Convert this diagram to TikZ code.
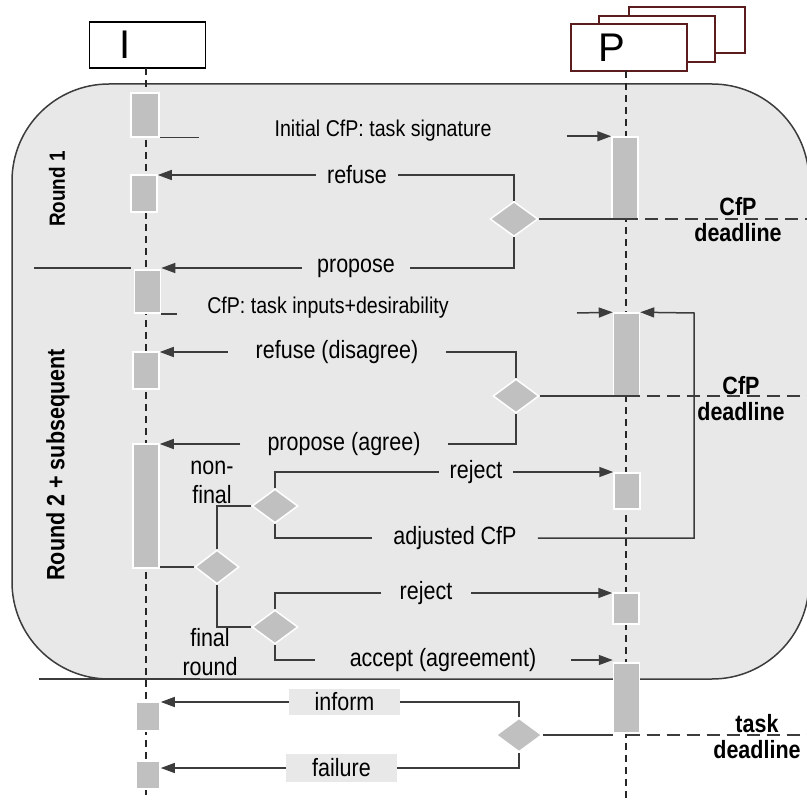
\documentclass[tikz,border=0pt]{standalone}
\usepackage{fontspec}
\setmainfont{Liberation Sans}[FakeStretch=0.86]
\newfontfamily\headfont{Liberation Sans}
\usepackage{xcolor}
\definecolor{lnGray}{RGB}{60,60,60}
\definecolor{regGray}{RGB}{232,232,232}
\definecolor{barGray}{RGB}{192,192,192}
\definecolor{pRed}{RGB}{90,28,28}
\usetikzlibrary{arrows.meta, shapes.geometric}

\tikzset{
  msg/.style={draw=lnGray, line width=1.5pt},
  msgarrow/.style={msg, -{Triangle[length=14pt,width=10pt]}},
  actbar/.style={fill=barGray, draw=white, line width=1.5pt, minimum width=26pt, inner sep=0pt},
  choice/.style={diamond, fill=barGray, draw=white, line width=1.5pt, minimum width=46pt, minimum height=34pt, inner sep=0pt},
  lifeline/.style={draw=black!85, line width=1.3pt, dash pattern=on 7pt off 5pt},
  deadln/.style={draw=lnGray, line width=1.5pt, dash pattern=on 13pt off 7pt},
  lifebox/.style={draw, fill=white, line width=1.5pt, minimum width=116pt, minimum height=46pt, inner sep=0pt},
  headtxt/.style={font=\headfont\fontsize{40}{44}\selectfont},
  lbl/.style={font=\fontsize{25}{29}\selectfont, inner ysep=0pt, align=center},
  slbl/.style={font=\fontsize{22.8}{26}\selectfont, inner ysep=0pt},
  dlbl/.style={font=\fontsize{25}{26}\selectfont\bfseries, align=center},
}

\begin{document}
\begin{tikzpicture}[x=1pt, y=-1pt]
  \useasboundingbox (0,0) rectangle (807,800);
  \coordinate (rEdge) at (810,0);
  % rounds area
  \draw[draw=lnGray, fill=regGray, line width=1.5pt, rounded corners=97pt] (12,84) rectangle (809,679);
  \draw[msg] (34,268) -- (131,268);
  \draw[msg] (39,679) -- (200,679);
  \node[rotate=90, font=\fontsize{22}{24}\selectfont\bfseries] (rnd1) at (57,189) {Round 1};
  \node[rotate=90, font=\fontsize{25}{26}\selectfont\bfseries] (rnd2) at (58,465) {Round 2 + subsequent};
  % lifeline heads
  \node[lifebox] (lifeI) at (147.5,45) {};
  \node[headtxt] (txtI) at (125,45) {I};
  \node[lifebox, draw=pRed] (pBack) at (687,30) {};
  \node[lifebox, draw=pRed] (pMid) at (657,39) {};
  \node[lifebox, draw=pRed, minimum height=47pt] (lifeP) at (629,47.5) {};
  \node[headtxt] (txtP) at (612,47.5) {P};
  % lifelines
  \coordinate (topI) at (146,68);
  \coordinate (topP) at (626,71);
  \draw[lifeline] (topI) -- (146,800);
  \draw[lifeline] (topP) -- (626,800);
  % activation bars
  \node[actbar, minimum width=28pt, minimum height=44pt] (bI1) at (145,115) {};
  \node[actbar, minimum height=37pt] (bI2) at (144,193.5) {};
  \node[actbar, minimum height=43pt] (bI3) at (147.5,291.5) {};
  \node[actbar, minimum height=37pt] (bI4) at (146,370.5) {};
  \node[actbar, minimum height=124pt] (bI5) at (146,506) {};
  \node[actbar, minimum width=24pt, minimum height=29pt] (bI6) at (148,716.5) {};
  \node[actbar, minimum width=24pt, minimum height=28pt] (bI7) at (148,775) {};
  \node[actbar, minimum height=82pt] (bP1) at (625,178) {};
  \node[actbar, minimum height=83pt] (bP2) at (626.5,354.5) {};
  \node[actbar, minimum height=36pt] (bP3) at (627,491) {};
  \node[actbar, minimum height=31pt] (bP4) at (626,608.5) {};
  \node[actbar, minimum height=70pt] (bP5) at (626.5,698) {};
  % decisions
  \node[choice, minimum width=48pt, minimum height=35pt] (d1) at (514,219) {};
  \node[choice] (d2) at (516,396) {};
  \node[choice, minimum width=44pt] (d3) at (217,567) {};
  \node[choice] (d4) at (275,506) {};
  \node[choice] (d5) at (275,627) {};
  \node[choice] (d6) at (519,735) {};
  % message labels
  \node[slbl, inner xsep=75pt] (lblInit) at (383,131) {Initial CfP: task signature};
  \node[lbl, inner xsep=11pt] (lblRef1) at (357,175) {refuse};
  \node[lbl, inner xsep=15pt] (lblProp1) at (356,268) {propose};
  \node[slbl, inner xsep=30pt] (lblInp) at (328,308) {CfP: task inputs+desirability};
  \node[lbl, inner xsep=28pt] (lblRef2) at (337,352) {refuse (disagree)};
  \node[lbl, inner xsep=27pt] (lblProp2) at (344,444) {propose (agree)};
  \node[lbl, inner xsep=11pt] (lblRej1) at (476,472) {reject};
  \node[lbl, inner xsep=21pt] (lblAdj) at (455,538) {adjusted CfP};
  \node[lbl, inner xsep=19pt] (lblRej2) at (426,593) {reject};
  \node[lbl, inner xsep=35pt] (lblAcc) at (443,660) {accept (agreement)};
  \node[lbl, fill=regGray, minimum width=111pt, minimum height=26pt] (lblInf) at (344.5,702) {inform};
  \node[lbl, fill=regGray, minimum width=111pt, minimum height=28pt] (lblFail) at (341.5,768) {failure};
  \node[lbl] (lblNonFin) at (212,482) {non-\\final};
  \node[lbl] (lblFin) at (210,652) {final\\round};
  % deadlines
  \node[dlbl] (dl1) at (738,220) {CfP\\deadline};
  \node[dlbl] (dl2) at (741,399) {CfP\\deadline};
  \node[dlbl] (dl3) at (757,737) {task\\deadline};
  % round 1
  \draw[msg] (bI1.south east) -- (bI1.south east -| lblInit.west);
  \draw[msgarrow] (lblInit.east |- bP1.north) -- (bP1.north west);
  \draw[msg] (d1.north) |- (lblRef1.east);
  \draw[msgarrow] (lblRef1.west) -- (lblRef1.west -| bI2.east);
  \draw[msg] (d1.south) |- (lblProp1.east);
  \draw[msgarrow] (lblProp1.west) -- (lblProp1.west -| bI3.east);
  \draw[msg] (d1.east) -- (d1.east -| bP1.south);
  \draw[deadln] (d1.east -| bP1.south) -- (d1.east -| rEdge);
  % round 2 + subsequent
  \coordinate (cInp) at (577,313);
  \coordinate (loopR) at (694,313);
  \draw[msg] (bI3.south east) -- (bI3.south east -| lblInp.west);
  \draw[msgarrow] (cInp) -- (bP2.north west);
  \draw[msg] (d2.north) |- (lblRef2.east);
  \draw[msgarrow] (lblRef2.west) -- (lblRef2.west -| bI4.east);
  \draw[msg] (d2.south) |- (lblProp2.east);
  \draw[msgarrow] (lblProp2.west) -- (lblProp2.west -| bI5.east);
  \draw[msg] (d2.east) -- (d2.east -| bP2.south);
  \draw[deadln] (d2.east -| bP2.south) -- (d2.east -| rEdge);
  \draw[msg] (d3.west -| bI5.east) -- (d3.west);
  \draw[msg] (d3.north) |- (d4.west);
  \draw[msg] (d3.south) |- (d5.west);
  \draw[msg] (d4.north) |- (lblRej1.west);
  \draw[msgarrow] (lblRej1.east) -- (lblRej1.east -| bP3.west);
  \draw[msg] (d4.south) |- (lblAdj.west);
  \draw[msgarrow] (lblAdj.east) -| (loopR) -- (bP2.north east);
  \draw[msg] (d5.north) |- (lblRej2.west);
  \draw[msgarrow] (lblRej2.east) -- (lblRej2.east -| bP4.west);
  \draw[msg] (d5.south) |- (lblAcc.west);
  \draw[msgarrow] (lblAcc.east) -- (lblAcc.east -| bP5.west);
  % outcome
  \draw[msg] (d6.north) |- (lblInf.east);
  \draw[msgarrow] (lblInf.west) -- (lblInf.west -| bI6.east);
  \draw[msg] (d6.south) |- (lblFail.east);
  \draw[msgarrow] (lblFail.west) -- (lblFail.west -| bI7.east);
  \draw[msg] (d6.east) -- (d6.east -| bP5.west);
  \draw[deadln] (d6.east -| bP5.south) -- (d6.east -| rEdge);
\end{tikzpicture}
\end{document}
